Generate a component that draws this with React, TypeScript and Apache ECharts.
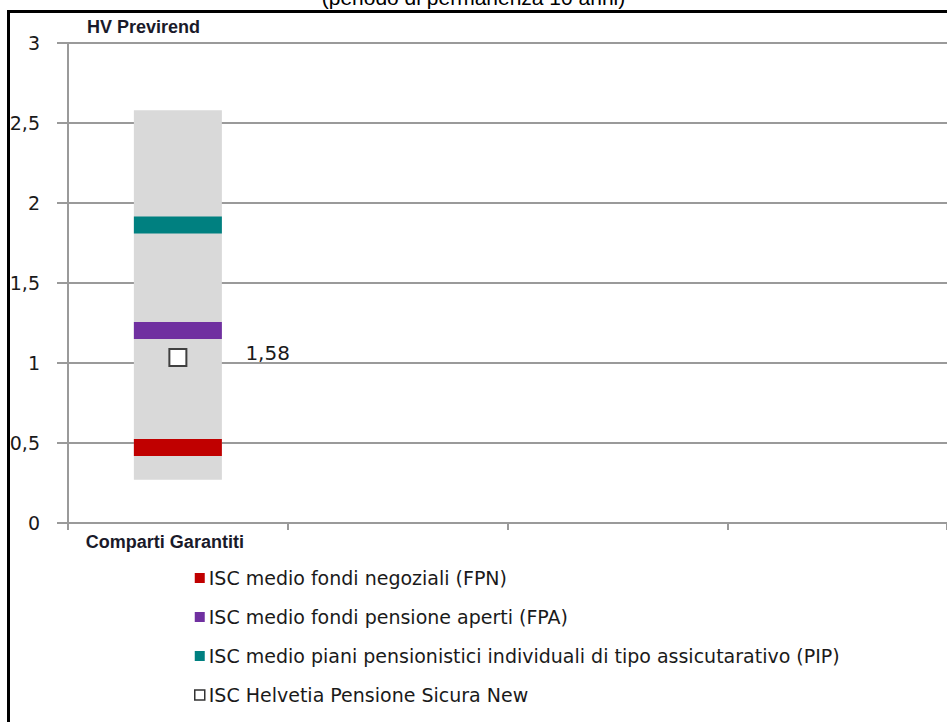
import React, { useEffect, useRef } from "react";
import * as echarts from "echarts";

const categories = ["Comparti Garantiti", "", "", ""];
const rangeMin = [0.27];
const rangeMax = [2.58];
const fpnValues = [0.472];
const fpaValues = [1.203];
const pipValues = [1.862];
const helvetiaValues = [1.034];
const helvetiaLabels = ["1,58"];
const seriesNames = [
  "ISC medio fondi negoziali (FPN)",
  "ISC medio fondi pensione aperti (FPA)",
  "ISC medio piani pensionistici individuali di tipo assicutarativo (PIP)",
  "ISC Helvetia Pensione Sicura New",
];
const titleText = "(periodo di permanenza 10 anni)";
const subTitleText = "HV Previrend";

export default function App() {
  const ref = useRef<HTMLDivElement>(null);
  useEffect(() => {
    if (!ref.current) return;
    const chart = echarts.init(ref.current, null, { renderer: "svg" });
    const gridColor = "#9a9a9a";
    const band = (vals: number[], name: string, color: string) => ({
      type: "scatter",
      name,
      symbol: "rect",
      symbolSize: [88, 17],
      z: 3,
      silent: true,
      itemStyle: { color, opacity: 1 },
      data: vals.map((v, i) => [i, v]),
    });
    chart.setOption({
      animation: false,
      backgroundColor: "#ffffff",
      grid: { left: 68, right: 0, top: 43, bottom: 199, containLabel: false },
      xAxis: {
        type: "category",
        data: categories,
        boundaryGap: true,
        axisLine: { show: true, lineStyle: { color: gridColor, width: 2 } },
        axisTick: { show: true, length: 7, lineStyle: { color: gridColor, width: 2 } },
        axisLabel: {
          interval: 0,
          margin: 10,
          color: "#1a1a2a",
          fontFamily: "Liberation Sans, Arial, sans-serif",
          fontWeight: "bold",
          fontSize: 18,
          padding: [0, 26, 0, 0],
        },
        splitLine: { show: false },
      },
      yAxis: {
        type: "value",
        min: 0,
        max: 3,
        interval: 0.5,
        axisLine: { show: true, lineStyle: { color: gridColor, width: 2 } },
        axisTick: { show: true, length: 11, lineStyle: { color: gridColor, width: 2 } },
        axisLabel: {
          margin: 28,
          color: "#1a1a1a",
          fontFamily: "DejaVu Sans, sans-serif",
          fontSize: 19,
          formatter: (v: number) => String(v).replace(".", ","),
        },
        splitLine: { show: true, lineStyle: { color: gridColor, width: 2 } },
      },
      legend: {
        orient: "vertical",
        left: 194,
        top: 568,
        padding: 0,
        itemGap: 19,
        itemWidth: 10,
        itemHeight: 10,
        icon: "rect",
        selectedMode: false,
        textStyle: {
          fontFamily: "DejaVu Sans, sans-serif",
          fontSize: 19,
          lineHeight: 20,
          color: "#1a1a1a",
          padding: [0, 0, 0, -1],
        },
        data: [
          { name: seriesNames[0] },
          { name: seriesNames[1] },
          { name: seriesNames[2] },
          {
            name: seriesNames[3],
            itemStyle: { color: "#ffffff", borderColor: "#333333", borderWidth: 1.5 },
          },
        ],
      },
      graphic: [
        {
          type: "text",
          left: "center",
          top: -13,
          style: {
            text: titleText,
            fontFamily: "Liberation Sans, Arial, sans-serif",
            fontSize: 21,
            fill: "#000000",
          },
        },
        {
          type: "text",
          x: 87,
          y: 27,
          style: {
            text: subTitleText,
            fontFamily: "Liberation Sans, Arial, sans-serif",
            fontWeight: "bold",
            fontSize: 18,
            fill: "#1a1a2a",
            verticalAlign: "middle",
          },
        },
        {
          type: "rect",
          z: 100,
          shape: { x: 8.5, y: 11.5, width: 1000, height: 1000 },
          style: { fill: "none", stroke: "#000000", lineWidth: 3 },
          silent: true,
        },
      ],
      series: [
        {
          type: "bar",
          name: "base",
          stack: "range",
          barWidth: 88,
          silent: true,
          itemStyle: { color: "transparent" },
          data: rangeMin,
        },
        {
          type: "bar",
          name: "range",
          stack: "range",
          barWidth: 88,
          silent: true,
          itemStyle: { color: "#d9d9d9" },
          data: rangeMax.map((v, i) => +(v - rangeMin[i]).toFixed(4)),
        },
        band(fpnValues, seriesNames[0], "#c00000"),
        band(fpaValues, seriesNames[1], "#7030a0"),
        band(pipValues, seriesNames[2], "#008080"),
        {
          type: "scatter",
          name: seriesNames[3],
          symbol: "rect",
          symbolSize: 17,
          z: 4,
          silent: true,
          itemStyle: { color: "#ffffff", borderColor: "#404040", borderWidth: 2, opacity: 1 },
          label: {
            show: true,
            position: "right",
            distance: 58,
            offset: [0, -5],
            fontFamily: "DejaVu Sans, sans-serif",
            fontSize: 20,
            color: "#1a1a1a",
            formatter: (p: any) => helvetiaLabels[p.dataIndex],
          },
          data: helvetiaValues.map((v, i) => [i, v]),
        },
      ],
    });
    return () => chart.dispose();
  }, []);
  return (
    <div
      ref={ref}
      style={{ position: "absolute", left: 0, top: 0, width: 947, height: 722 }}
    />
  );
}
